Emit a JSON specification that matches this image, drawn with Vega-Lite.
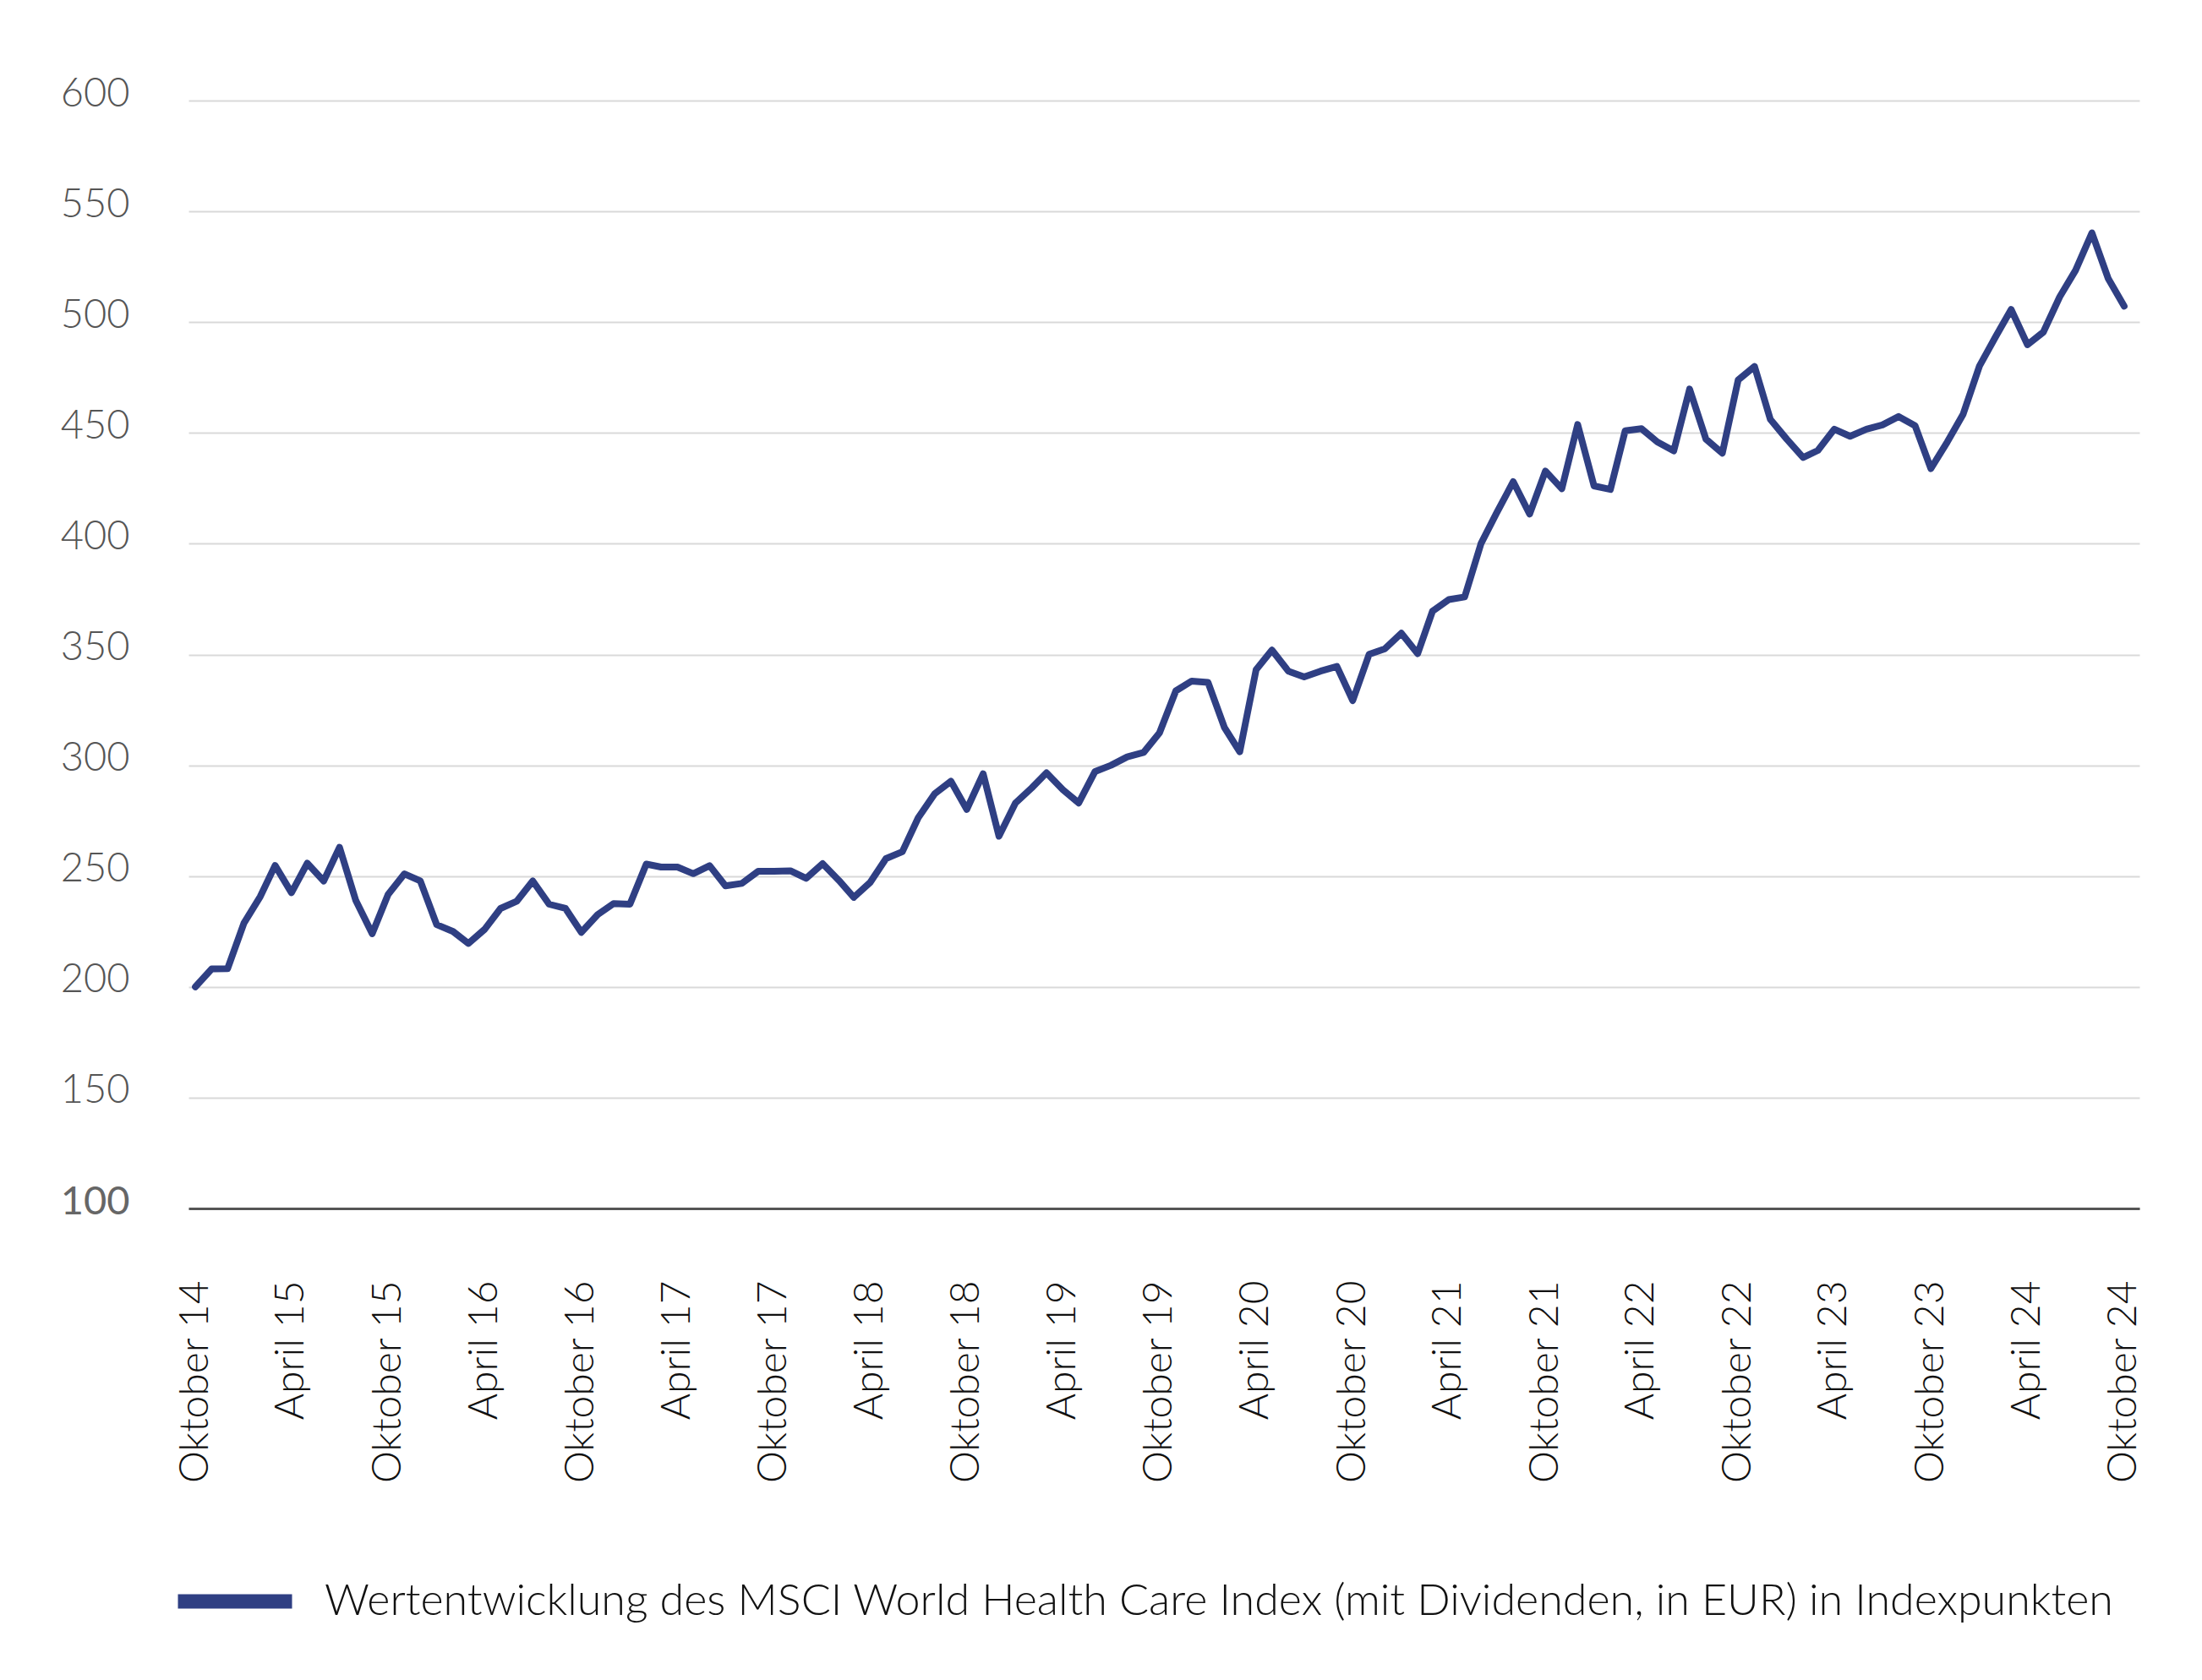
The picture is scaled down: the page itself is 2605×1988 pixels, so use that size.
{
  "$schema": "https://vega.github.io/schema/vega-lite/v6.json",
  "width": 2308,
  "height": 1311,
  "autosize": {"type": "none"},
  "padding": {"left": 223, "top": 119, "right": 74, "bottom": 558},
  "background": "white",
  "config": {
    "view": {"stroke": null},
    "font": "Lato"
  },
  "data": {
    "values": [
      {"date": "2014-10-01", "wert": 200, "serie": "Wertentwicklung des MSCI World Health Care Index (mit Dividenden, in EUR) in Indexpunkten"},
      {"date": "2014-11-01", "wert": 208.1, "serie": "Wertentwicklung des MSCI World Health Care Index (mit Dividenden, in EUR) in Indexpunkten"},
      {"date": "2014-12-01", "wert": 208.2, "serie": "Wertentwicklung des MSCI World Health Care Index (mit Dividenden, in EUR) in Indexpunkten"},
      {"date": "2015-01-01", "wert": 228.8, "serie": "Wertentwicklung des MSCI World Health Care Index (mit Dividenden, in EUR) in Indexpunkten"},
      {"date": "2015-02-01", "wert": 240.8, "serie": "Wertentwicklung des MSCI World Health Care Index (mit Dividenden, in EUR) in Indexpunkten"},
      {"date": "2015-03-01", "wert": 254.8, "serie": "Wertentwicklung des MSCI World Health Care Index (mit Dividenden, in EUR) in Indexpunkten"},
      {"date": "2015-04-01", "wert": 242.5, "serie": "Wertentwicklung des MSCI World Health Care Index (mit Dividenden, in EUR) in Indexpunkten"},
      {"date": "2015-05-01", "wert": 255.8, "serie": "Wertentwicklung des MSCI World Health Care Index (mit Dividenden, in EUR) in Indexpunkten"},
      {"date": "2015-06-01", "wert": 247.8, "serie": "Wertentwicklung des MSCI World Health Care Index (mit Dividenden, in EUR) in Indexpunkten"},
      {"date": "2015-07-01", "wert": 263, "serie": "Wertentwicklung des MSCI World Health Care Index (mit Dividenden, in EUR) in Indexpunkten"},
      {"date": "2015-08-01", "wert": 238.9, "serie": "Wertentwicklung des MSCI World Health Care Index (mit Dividenden, in EUR) in Indexpunkten"},
      {"date": "2015-09-01", "wert": 224, "serie": "Wertentwicklung des MSCI World Health Care Index (mit Dividenden, in EUR) in Indexpunkten"},
      {"date": "2015-10-01", "wert": 241.7, "serie": "Wertentwicklung des MSCI World Health Care Index (mit Dividenden, in EUR) in Indexpunkten"},
      {"date": "2015-11-01", "wert": 251, "serie": "Wertentwicklung des MSCI World Health Care Index (mit Dividenden, in EUR) in Indexpunkten"},
      {"date": "2015-12-01", "wert": 247.8, "serie": "Wertentwicklung des MSCI World Health Care Index (mit Dividenden, in EUR) in Indexpunkten"},
      {"date": "2016-01-01", "wert": 228.1, "serie": "Wertentwicklung des MSCI World Health Care Index (mit Dividenden, in EUR) in Indexpunkten"},
      {"date": "2016-02-01", "wert": 225, "serie": "Wertentwicklung des MSCI World Health Care Index (mit Dividenden, in EUR) in Indexpunkten"},
      {"date": "2016-03-01", "wert": 219.6, "serie": "Wertentwicklung des MSCI World Health Care Index (mit Dividenden, in EUR) in Indexpunkten"},
      {"date": "2016-04-01", "wert": 226, "serie": "Wertentwicklung des MSCI World Health Care Index (mit Dividenden, in EUR) in Indexpunkten"},
      {"date": "2016-05-01", "wert": 235.4, "serie": "Wertentwicklung des MSCI World Health Care Index (mit Dividenden, in EUR) in Indexpunkten"},
      {"date": "2016-06-01", "wert": 238.7, "serie": "Wertentwicklung des MSCI World Health Care Index (mit Dividenden, in EUR) in Indexpunkten"},
      {"date": "2016-07-01", "wert": 247.8, "serie": "Wertentwicklung des MSCI World Health Care Index (mit Dividenden, in EUR) in Indexpunkten"},
      {"date": "2016-08-01", "wert": 237.3, "serie": "Wertentwicklung des MSCI World Health Care Index (mit Dividenden, in EUR) in Indexpunkten"},
      {"date": "2016-09-01", "wert": 235.4, "serie": "Wertentwicklung des MSCI World Health Care Index (mit Dividenden, in EUR) in Indexpunkten"},
      {"date": "2016-10-01", "wert": 224.6, "serie": "Wertentwicklung des MSCI World Health Care Index (mit Dividenden, in EUR) in Indexpunkten"},
      {"date": "2016-11-01", "wert": 232.6, "serie": "Wertentwicklung des MSCI World Health Care Index (mit Dividenden, in EUR) in Indexpunkten"},
      {"date": "2016-12-01", "wert": 237.6, "serie": "Wertentwicklung des MSCI World Health Care Index (mit Dividenden, in EUR) in Indexpunkten"},
      {"date": "2017-01-01", "wert": 237.3, "serie": "Wertentwicklung des MSCI World Health Care Index (mit Dividenden, in EUR) in Indexpunkten"},
      {"date": "2017-02-01", "wert": 255.4, "serie": "Wertentwicklung des MSCI World Health Care Index (mit Dividenden, in EUR) in Indexpunkten"},
      {"date": "2017-03-01", "wert": 254.1, "serie": "Wertentwicklung des MSCI World Health Care Index (mit Dividenden, in EUR) in Indexpunkten"},
      {"date": "2017-04-01", "wert": 254.1, "serie": "Wertentwicklung des MSCI World Health Care Index (mit Dividenden, in EUR) in Indexpunkten"},
      {"date": "2017-05-01", "wert": 251.1, "serie": "Wertentwicklung des MSCI World Health Care Index (mit Dividenden, in EUR) in Indexpunkten"},
      {"date": "2017-06-01", "wert": 254.7, "serie": "Wertentwicklung des MSCI World Health Care Index (mit Dividenden, in EUR) in Indexpunkten"},
      {"date": "2017-07-01", "wert": 245.6, "serie": "Wertentwicklung des MSCI World Health Care Index (mit Dividenden, in EUR) in Indexpunkten"},
      {"date": "2017-08-01", "wert": 246.7, "serie": "Wertentwicklung des MSCI World Health Care Index (mit Dividenden, in EUR) in Indexpunkten"},
      {"date": "2017-09-01", "wert": 252.2, "serie": "Wertentwicklung des MSCI World Health Care Index (mit Dividenden, in EUR) in Indexpunkten"},
      {"date": "2017-10-01", "wert": 252.2, "serie": "Wertentwicklung des MSCI World Health Care Index (mit Dividenden, in EUR) in Indexpunkten"},
      {"date": "2017-11-01", "wert": 252.4, "serie": "Wertentwicklung des MSCI World Health Care Index (mit Dividenden, in EUR) in Indexpunkten"},
      {"date": "2017-12-01", "wert": 249, "serie": "Wertentwicklung des MSCI World Health Care Index (mit Dividenden, in EUR) in Indexpunkten"},
      {"date": "2018-01-01", "wert": 255.6, "serie": "Wertentwicklung des MSCI World Health Care Index (mit Dividenden, in EUR) in Indexpunkten"},
      {"date": "2018-02-01", "wert": 248, "serie": "Wertentwicklung des MSCI World Health Care Index (mit Dividenden, in EUR) in Indexpunkten"},
      {"date": "2018-03-01", "wert": 240.4, "serie": "Wertentwicklung des MSCI World Health Care Index (mit Dividenden, in EUR) in Indexpunkten"},
      {"date": "2018-04-01", "wert": 247.1, "serie": "Wertentwicklung des MSCI World Health Care Index (mit Dividenden, in EUR) in Indexpunkten"},
      {"date": "2018-05-01", "wert": 257.9, "serie": "Wertentwicklung des MSCI World Health Care Index (mit Dividenden, in EUR) in Indexpunkten"},
      {"date": "2018-06-01", "wert": 261, "serie": "Wertentwicklung des MSCI World Health Care Index (mit Dividenden, in EUR) in Indexpunkten"},
      {"date": "2018-07-01", "wert": 276.3, "serie": "Wertentwicklung des MSCI World Health Care Index (mit Dividenden, in EUR) in Indexpunkten"},
      {"date": "2018-08-01", "wert": 287.1, "serie": "Wertentwicklung des MSCI World Health Care Index (mit Dividenden, in EUR) in Indexpunkten"},
      {"date": "2018-09-01", "wert": 292.8, "serie": "Wertentwicklung des MSCI World Health Care Index (mit Dividenden, in EUR) in Indexpunkten"},
      {"date": "2018-10-01", "wert": 280.1, "serie": "Wertentwicklung des MSCI World Health Care Index (mit Dividenden, in EUR) in Indexpunkten"},
      {"date": "2018-11-01", "wert": 296.2, "serie": "Wertentwicklung des MSCI World Health Care Index (mit Dividenden, in EUR) in Indexpunkten"},
      {"date": "2018-12-01", "wert": 268, "serie": "Wertentwicklung des MSCI World Health Care Index (mit Dividenden, in EUR) in Indexpunkten"},
      {"date": "2019-01-01", "wert": 282.9, "serie": "Wertentwicklung des MSCI World Health Care Index (mit Dividenden, in EUR) in Indexpunkten"},
      {"date": "2019-02-01", "wert": 289.8, "serie": "Wertentwicklung des MSCI World Health Care Index (mit Dividenden, in EUR) in Indexpunkten"},
      {"date": "2019-03-01", "wert": 296.6, "serie": "Wertentwicklung des MSCI World Health Care Index (mit Dividenden, in EUR) in Indexpunkten"},
      {"date": "2019-04-01", "wert": 289, "serie": "Wertentwicklung des MSCI World Health Care Index (mit Dividenden, in EUR) in Indexpunkten"},
      {"date": "2019-05-01", "wert": 283, "serie": "Wertentwicklung des MSCI World Health Care Index (mit Dividenden, in EUR) in Indexpunkten"},
      {"date": "2019-06-01", "wert": 297.2, "serie": "Wertentwicklung des MSCI World Health Care Index (mit Dividenden, in EUR) in Indexpunkten"},
      {"date": "2019-07-01", "wert": 300, "serie": "Wertentwicklung des MSCI World Health Care Index (mit Dividenden, in EUR) in Indexpunkten"},
      {"date": "2019-08-01", "wert": 303.8, "serie": "Wertentwicklung des MSCI World Health Care Index (mit Dividenden, in EUR) in Indexpunkten"},
      {"date": "2019-09-01", "wert": 305.8, "serie": "Wertentwicklung des MSCI World Health Care Index (mit Dividenden, in EUR) in Indexpunkten"},
      {"date": "2019-10-01", "wert": 314.6, "serie": "Wertentwicklung des MSCI World Health Care Index (mit Dividenden, in EUR) in Indexpunkten"},
      {"date": "2019-11-01", "wert": 333.6, "serie": "Wertentwicklung des MSCI World Health Care Index (mit Dividenden, in EUR) in Indexpunkten"},
      {"date": "2019-12-01", "wert": 338, "serie": "Wertentwicklung des MSCI World Health Care Index (mit Dividenden, in EUR) in Indexpunkten"},
      {"date": "2020-01-01", "wert": 337.4, "serie": "Wertentwicklung des MSCI World Health Care Index (mit Dividenden, in EUR) in Indexpunkten"},
      {"date": "2020-02-01", "wert": 317.1, "serie": "Wertentwicklung des MSCI World Health Care Index (mit Dividenden, in EUR) in Indexpunkten"},
      {"date": "2020-03-01", "wert": 306.1, "serie": "Wertentwicklung des MSCI World Health Care Index (mit Dividenden, in EUR) in Indexpunkten"},
      {"date": "2020-04-01", "wert": 343.1, "serie": "Wertentwicklung des MSCI World Health Care Index (mit Dividenden, in EUR) in Indexpunkten"},
      {"date": "2020-05-01", "wert": 352, "serie": "Wertentwicklung des MSCI World Health Care Index (mit Dividenden, in EUR) in Indexpunkten"},
      {"date": "2020-06-01", "wert": 342.5, "serie": "Wertentwicklung des MSCI World Health Care Index (mit Dividenden, in EUR) in Indexpunkten"},
      {"date": "2020-07-01", "wert": 339.9, "serie": "Wertentwicklung des MSCI World Health Care Index (mit Dividenden, in EUR) in Indexpunkten"},
      {"date": "2020-08-01", "wert": 342.5, "serie": "Wertentwicklung des MSCI World Health Care Index (mit Dividenden, in EUR) in Indexpunkten"},
      {"date": "2020-09-01", "wert": 344.6, "serie": "Wertentwicklung des MSCI World Health Care Index (mit Dividenden, in EUR) in Indexpunkten"},
      {"date": "2020-10-01", "wert": 329.2, "serie": "Wertentwicklung des MSCI World Health Care Index (mit Dividenden, in EUR) in Indexpunkten"},
      {"date": "2020-11-01", "wert": 350.1, "serie": "Wertentwicklung des MSCI World Health Care Index (mit Dividenden, in EUR) in Indexpunkten"},
      {"date": "2020-12-01", "wert": 352.6, "serie": "Wertentwicklung des MSCI World Health Care Index (mit Dividenden, in EUR) in Indexpunkten"},
      {"date": "2021-01-01", "wert": 359.6, "serie": "Wertentwicklung des MSCI World Health Care Index (mit Dividenden, in EUR) in Indexpunkten"},
      {"date": "2021-02-01", "wert": 350.4, "serie": "Wertentwicklung des MSCI World Health Care Index (mit Dividenden, in EUR) in Indexpunkten"},
      {"date": "2021-03-01", "wert": 369.5, "serie": "Wertentwicklung des MSCI World Health Care Index (mit Dividenden, in EUR) in Indexpunkten"},
      {"date": "2021-04-01", "wert": 374.8, "serie": "Wertentwicklung des MSCI World Health Care Index (mit Dividenden, in EUR) in Indexpunkten"},
      {"date": "2021-05-01", "wert": 376, "serie": "Wertentwicklung des MSCI World Health Care Index (mit Dividenden, in EUR) in Indexpunkten"},
      {"date": "2021-06-01", "wert": 400.1, "serie": "Wertentwicklung des MSCI World Health Care Index (mit Dividenden, in EUR) in Indexpunkten"},
      {"date": "2021-07-01", "wert": 414.1, "serie": "Wertentwicklung des MSCI World Health Care Index (mit Dividenden, in EUR) in Indexpunkten"},
      {"date": "2021-08-01", "wert": 428, "serie": "Wertentwicklung des MSCI World Health Care Index (mit Dividenden, in EUR) in Indexpunkten"},
      {"date": "2021-09-01", "wert": 413.4, "serie": "Wertentwicklung des MSCI World Health Care Index (mit Dividenden, in EUR) in Indexpunkten"},
      {"date": "2021-10-01", "wert": 432.8, "serie": "Wertentwicklung des MSCI World Health Care Index (mit Dividenden, in EUR) in Indexpunkten"},
      {"date": "2021-11-01", "wert": 424.8, "serie": "Wertentwicklung des MSCI World Health Care Index (mit Dividenden, in EUR) in Indexpunkten"},
      {"date": "2021-12-01", "wert": 453.8, "serie": "Wertentwicklung des MSCI World Health Care Index (mit Dividenden, in EUR) in Indexpunkten"},
      {"date": "2022-01-01", "wert": 426.1, "serie": "Wertentwicklung des MSCI World Health Care Index (mit Dividenden, in EUR) in Indexpunkten"},
      {"date": "2022-02-01", "wert": 424.5, "serie": "Wertentwicklung des MSCI World Health Care Index (mit Dividenden, in EUR) in Indexpunkten"},
      {"date": "2022-03-01", "wert": 451, "serie": "Wertentwicklung des MSCI World Health Care Index (mit Dividenden, in EUR) in Indexpunkten"},
      {"date": "2022-04-01", "wert": 451.9, "serie": "Wertentwicklung des MSCI World Health Care Index (mit Dividenden, in EUR) in Indexpunkten"},
      {"date": "2022-05-01", "wert": 445.9, "serie": "Wertentwicklung des MSCI World Health Care Index (mit Dividenden, in EUR) in Indexpunkten"},
      {"date": "2022-06-01", "wert": 441.9, "serie": "Wertentwicklung des MSCI World Health Care Index (mit Dividenden, in EUR) in Indexpunkten"},
      {"date": "2022-07-01", "wert": 469.8, "serie": "Wertentwicklung des MSCI World Health Care Index (mit Dividenden, in EUR) in Indexpunkten"},
      {"date": "2022-08-01", "wert": 447.2, "serie": "Wertentwicklung des MSCI World Health Care Index (mit Dividenden, in EUR) in Indexpunkten"},
      {"date": "2022-09-01", "wert": 440.9, "serie": "Wertentwicklung des MSCI World Health Care Index (mit Dividenden, in EUR) in Indexpunkten"},
      {"date": "2022-10-01", "wert": 473.9, "serie": "Wertentwicklung des MSCI World Health Care Index (mit Dividenden, in EUR) in Indexpunkten"},
      {"date": "2022-11-01", "wert": 480, "serie": "Wertentwicklung des MSCI World Health Care Index (mit Dividenden, in EUR) in Indexpunkten"},
      {"date": "2022-12-01", "wert": 456.1, "serie": "Wertentwicklung des MSCI World Health Care Index (mit Dividenden, in EUR) in Indexpunkten"},
      {"date": "2023-01-01", "wert": 447.2, "serie": "Wertentwicklung des MSCI World Health Care Index (mit Dividenden, in EUR) in Indexpunkten"},
      {"date": "2023-02-01", "wert": 438.9, "serie": "Wertentwicklung des MSCI World Health Care Index (mit Dividenden, in EUR) in Indexpunkten"},
      {"date": "2023-03-01", "wert": 442.1, "serie": "Wertentwicklung des MSCI World Health Care Index (mit Dividenden, in EUR) in Indexpunkten"},
      {"date": "2023-04-01", "wert": 451.7, "serie": "Wertentwicklung des MSCI World Health Care Index (mit Dividenden, in EUR) in Indexpunkten"},
      {"date": "2023-05-01", "wert": 448.5, "serie": "Wertentwicklung des MSCI World Health Care Index (mit Dividenden, in EUR) in Indexpunkten"},
      {"date": "2023-06-01", "wert": 451.7, "serie": "Wertentwicklung des MSCI World Health Care Index (mit Dividenden, in EUR) in Indexpunkten"},
      {"date": "2023-07-01", "wert": 453.6, "serie": "Wertentwicklung des MSCI World Health Care Index (mit Dividenden, in EUR) in Indexpunkten"},
      {"date": "2023-08-01", "wert": 457.4, "serie": "Wertentwicklung des MSCI World Health Care Index (mit Dividenden, in EUR) in Indexpunkten"},
      {"date": "2023-09-01", "wert": 453.3, "serie": "Wertentwicklung des MSCI World Health Care Index (mit Dividenden, in EUR) in Indexpunkten"},
      {"date": "2023-10-01", "wert": 433.9, "serie": "Wertentwicklung des MSCI World Health Care Index (mit Dividenden, in EUR) in Indexpunkten"},
      {"date": "2023-11-01", "wert": 445.9, "serie": "Wertentwicklung des MSCI World Health Care Index (mit Dividenden, in EUR) in Indexpunkten"},
      {"date": "2023-12-01", "wert": 458.4, "serie": "Wertentwicklung des MSCI World Health Care Index (mit Dividenden, in EUR) in Indexpunkten"},
      {"date": "2024-01-01", "wert": 480.2, "serie": "Wertentwicklung des MSCI World Health Care Index (mit Dividenden, in EUR) in Indexpunkten"},
      {"date": "2024-02-01", "wert": 493.6, "serie": "Wertentwicklung des MSCI World Health Care Index (mit Dividenden, in EUR) in Indexpunkten"},
      {"date": "2024-03-01", "wert": 505.7, "serie": "Wertentwicklung des MSCI World Health Care Index (mit Dividenden, in EUR) in Indexpunkten"},
      {"date": "2024-04-01", "wert": 489.8, "serie": "Wertentwicklung des MSCI World Health Care Index (mit Dividenden, in EUR) in Indexpunkten"},
      {"date": "2024-05-01", "wert": 495.5, "serie": "Wertentwicklung des MSCI World Health Care Index (mit Dividenden, in EUR) in Indexpunkten"},
      {"date": "2024-06-01", "wert": 511.4, "serie": "Wertentwicklung des MSCI World Health Care Index (mit Dividenden, in EUR) in Indexpunkten"},
      {"date": "2024-07-01", "wert": 523.4, "serie": "Wertentwicklung des MSCI World Health Care Index (mit Dividenden, in EUR) in Indexpunkten"},
      {"date": "2024-08-01", "wert": 540.3, "serie": "Wertentwicklung des MSCI World Health Care Index (mit Dividenden, in EUR) in Indexpunkten"},
      {"date": "2024-09-01", "wert": 519.6, "serie": "Wertentwicklung des MSCI World Health Care Index (mit Dividenden, in EUR) in Indexpunkten"},
      {"date": "2024-10-01", "wert": 507.2, "serie": "Wertentwicklung des MSCI World Health Care Index (mit Dividenden, in EUR) in Indexpunkten"}
    ]
  },
  "mark": {"type": "line", "strokeWidth": 8, "strokeJoin": "round", "strokeCap": "round"},
  "encoding": {
    "x": {
      "field": "date",
      "type": "temporal",
      "scale": {
        "type": "utc",
        "domain": [
          {"year": 2014, "month": 9, "date": 18, "utc": true},
          {"year": 2024, "month": 10, "date": 30, "utc": true}
        ]
      },
      "axis": {
        "title": null,
        "values": [
          {"year": 2014, "month": 10, "date": 1, "utc": true},
          {"year": 2015, "month": 4, "date": 1, "utc": true},
          {"year": 2015, "month": 10, "date": 1, "utc": true},
          {"year": 2016, "month": 4, "date": 1, "utc": true},
          {"year": 2016, "month": 10, "date": 1, "utc": true},
          {"year": 2017, "month": 4, "date": 1, "utc": true},
          {"year": 2017, "month": 10, "date": 1, "utc": true},
          {"year": 2018, "month": 4, "date": 1, "utc": true},
          {"year": 2018, "month": 10, "date": 1, "utc": true},
          {"year": 2019, "month": 4, "date": 1, "utc": true},
          {"year": 2019, "month": 10, "date": 1, "utc": true},
          {"year": 2020, "month": 4, "date": 1, "utc": true},
          {"year": 2020, "month": 10, "date": 1, "utc": true},
          {"year": 2021, "month": 4, "date": 1, "utc": true},
          {"year": 2021, "month": 10, "date": 1, "utc": true},
          {"year": 2022, "month": 4, "date": 1, "utc": true},
          {"year": 2022, "month": 10, "date": 1, "utc": true},
          {"year": 2023, "month": 4, "date": 1, "utc": true},
          {"year": 2023, "month": 10, "date": 1, "utc": true},
          {"year": 2024, "month": 4, "date": 1, "utc": true},
          {"year": 2024, "month": 10, "date": 1, "utc": true}
        ],
        "labelExpr": "(utcmonth(datum.value) == 9 ? 'Oktober ' : 'April ') + utcFormat(datum.value, '%y')",
        "labelAngle": -90,
        "labelFontSize": 48,
        "labelFont": "Lato",
        "labelFontWeight": 300,
        "labelColor": "#111111",
        "labelPadding": 85,
        "labelLimit": 500,
        "labelOverlap": false,
        "labelFlush": false,
        "ticks": false,
        "grid": false,
        "domain": true,
        "domainColor": "#555555",
        "domainWidth": 3
      }
    },
    "y": {
      "field": "wert",
      "type": "quantitative",
      "scale": {"domain": [100, 600], "nice": false, "zero": false},
      "axis": {
        "title": null,
        "values": [100, 150, 200, 250, 300, 350, 400, 450, 500, 550, 600],
        "domain": false,
        "ticks": false,
        "grid": true,
        "gridColor": "#d9d9d9",
        "gridWidth": 2,
        "labelFontSize": 47,
        "labelFont": "Lato",
        "labelFontWeight": {"condition": {"test": "datum.value == 100", "value": 400}, "value": 300},
        "labelColor": {"condition": {"test": "datum.value == 100", "value": "#666666"}, "value": "#555555"},
        "labelPadding": 70,
        "labelBaseline": "middle",
        "labelOffset": -8,
        "labelFlush": false
      }
    },
    "color": {
      "field": "serie",
      "type": "nominal",
      "scale": {"range": ["#2f3f83"]},
      "legend": {
        "title": null,
        "orient": "none",
        "legendX": -21,
        "legendY": 1700,
        "symbolType": "stroke",
        "symbolStrokeWidth": 17,
        "symbolSize": 18225,
        "labelFontSize": 52,
        "labelFont": "Lato",
        "labelFontWeight": 300,
        "labelColor": "#111111",
        "labelOffset": 30,
        "labelLimit": 3000
      }
    }
  }
}
